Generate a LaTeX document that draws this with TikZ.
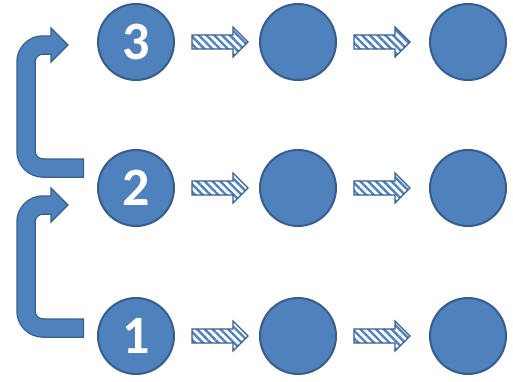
\documentclass[tikz,border=0pt]{standalone}
\usepackage{fontspec}
\newfontfamily\numfont{Carlito}
\usetikzlibrary{calc,patterns.meta}
\definecolor{nodefill}{HTML}{4F81BD}
\definecolor{nodeline}{HTML}{385D8A}

\begin{document}
\begin{tikzpicture}[x=1pt, y=-1pt]
    \tikzstyle{flow vertex} = [circle,fill=nodefill,draw=nodeline,line width=2pt,inner sep=0pt,minimum size=76pt,text=white,font=\numfont\bfseries\fontsize{54}{54}\selectfont]
    \tikzstyle{flow edge hatched} = [draw=nodeline,line width=1.2pt,pattern={Lines[angle=-45,distance=5.5pt,line width=2.4pt]},pattern color=nodefill,
        to path={($(\tikztostart.east)+(17,-7)$) -- ++(41,0) -- ++(0,-8) -- ++(15,15) -- ++(-15,15) -- ++(0,-8) -- ++(-41,0) -- cycle}]
    \tikzstyle{flow edge bent} = [draw=nodeline,line width=19.5pt,rounded corners=17pt]
    \tikzstyle{flow edge bent fill} = [draw=nodefill,line width=17pt,rounded corners=17pt,shorten <=1.2pt,shorten >=-1.5pt]
    \tikzstyle{flow edge head} = [fill=nodefill,draw=nodeline,line width=1.2pt,line join=miter]
\useasboundingbox (0,0) rectangle (513,381);
\node[flow vertex] (3) at (136,42) {3};
\node[flow vertex] (3a) at (298,42) {};
\node[flow vertex] (3b) at (468,42) {};
\node[flow vertex] (2) at (136,188) {2};
\node[flow vertex] (2a) at (298,188) {};
\node[flow vertex] (2b) at (468,188) {};
\node[flow vertex] (1) at (136,336) {1};
\node[flow vertex] (1a) at (298,336) {};
\node[flow vertex] (1b) at (468,336) {};
\draw[flow edge hatched] (3) to (3a);
\draw[flow edge hatched] (3a) to (3b);
\draw[flow edge hatched] (2) to (2a);
\draw[flow edge hatched] (2a) to (2b);
\draw[flow edge hatched] (1) to (1a);
\draw[flow edge hatched] (1a) to (1b);
% bent arrows on the left
\coordinate (t1) at ($(1)+(-52,-8)$);
\coordinate (k1) at ($(2)+(-110,17)$);
\coordinate (h1) at ($(2)+(-85,17)$);
\coordinate (t2) at ($(2)+(-52,-20)$);
\coordinate (k2) at ($(3)+(-110,3)$);
\coordinate (h2) at ($(3)+(-85,3)$);
\draw[flow edge bent] (t1) -| (k1) -- (h1);
\filldraw[flow edge head] (h1) ++(0,-17) -- ++(17,17) -- ++(-17,17) -- cycle;
\draw[flow edge bent fill] (t1) -| (k1) -- (h1);
\draw[flow edge bent] (t2) -| (k2) -- (h2);
\filldraw[flow edge head] (h2) ++(0,-17) -- ++(17,17) -- ++(-17,17) -- cycle;
\draw[flow edge bent fill] (t2) -| (k2) -- (h2);
\end{tikzpicture}
\end{document}
